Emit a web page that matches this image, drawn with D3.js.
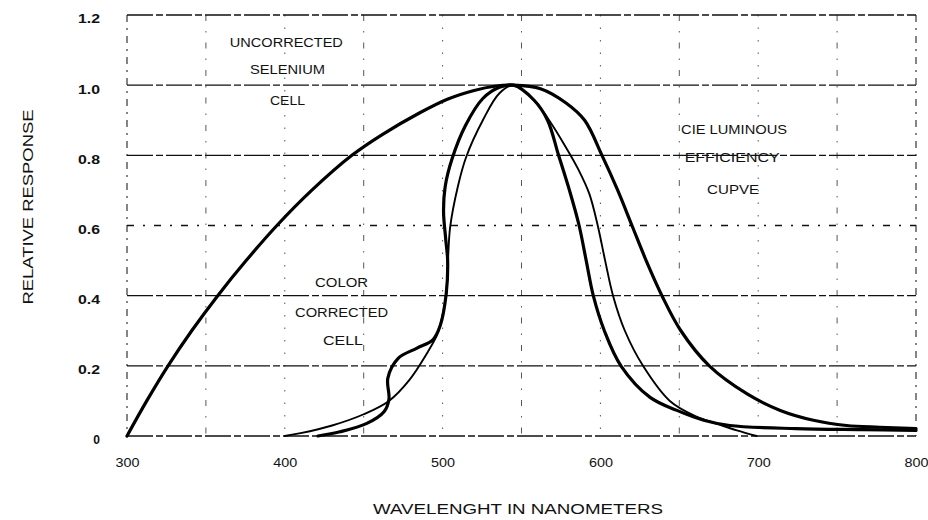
<!DOCTYPE html>
<html>
<head>
<meta charset="utf-8">
<script src="https://cdn.jsdelivr.net/npm/d3@7"></script>
<style>
  body { margin: 0; background: #fff; }
  svg { display: block; }
  text { font-family: "Liberation Sans", Arial, sans-serif; fill: #111; }
</style>
</head>
<body>
<div id="graph"></div>
<script>
// values: [wavelength nm, relative response]
var selenium = [
    [300, 0], [312.5, 0.1], [326, 0.2], [341, 0.3], [357.5, 0.4], [375.5, 0.5], [395, 0.6],
    [417, 0.7], [442.5, 0.8], [462, 0.86], [485, 0.92], [503, 0.96], [520, 0.985],
    [533, 0.997], [545, 1.0], [562, 0.99], [578, 0.95], [590, 0.9], [601, 0.8],
    [611, 0.7], [620, 0.6], [629, 0.5], [639, 0.4], [651, 0.3], [669, 0.2], [693, 0.12],
    [714, 0.073], [735, 0.045], [756, 0.03], [777, 0.025], [800, 0.021]
];
var colorCorrected = [
    [421, 0], [435, 0.012], [452, 0.036], [463, 0.07], [466, 0.105], [465.3, 0.165],
    [472, 0.222], [483.5, 0.25], [494, 0.275], [498.5, 0.315], [502.3, 0.406], [503.2, 0.5],
    [502, 0.56], [500.6, 0.64], [501.6, 0.71], [506, 0.79], [514.5, 0.885],
    [525.5, 0.962], [536, 0.994], [545, 1.0], [558, 0.957], [566.5, 0.9], [573.5, 0.8],
    [580.4, 0.7], [586.5, 0.6], [591, 0.5], [595.5, 0.4], [602.5, 0.3], [613, 0.2],
    [631.5, 0.11], [648.5, 0.073], [665.5, 0.045], [682, 0.03], [724, 0.021],
    [766, 0.018], [800, 0.016]
];
var cie = [
    [400, 0], [410, 0.008], [430, 0.03], [450, 0.062], [466, 0.1], [479, 0.16],
    [490, 0.235], [496, 0.283], [498.5, 0.315], [502.3, 0.406], [503.4, 0.5],
    [504.8, 0.596], [509.6, 0.71], [515, 0.796], [525.5, 0.9], [536, 0.977], [545, 1.0],
    [558, 0.957], [567.5, 0.9], [578, 0.824], [586, 0.76], [593, 0.69], [598.3, 0.6],
    [603, 0.5], [608, 0.4], [615.5, 0.3], [627, 0.2], [644, 0.1], [661, 0.055],
    [673.8, 0.035], [686.5, 0.016], [699, 0]
];

var xTicks = [300, 400, 500, 600, 700, 800];
var xGrid = [300, 350, 400, 450, 500, 550, 600, 650, 700, 750, 800];
var yTicks = [0, 0.2, 0.4, 0.6, 0.8, 1.0, 1.2];
var yTickLabels = ["0", "0.2", "0.4", "0.6", "0.8", "1.0", "1.2"];

var margin = { top: 15, right: 12, bottom: 84, left: 127 },
    width = 928 - margin.left - margin.right,
    height = 520 - margin.top - margin.bottom;

var x = d3.scaleLinear().domain([300, 800]).range([0, width]);
var y = d3.scaleLinear().domain([0, 1.2]).range([height, 0]);

var svg = d3.select("#graph").append("svg")
    .attr("width", 928)
    .attr("height", 520);

var g = svg.append("g")
    .attr("transform", "translate(" + margin.left + "," + margin.top + ")");

// vertical grid, sparse dash-dot (frame sides a bit stronger)
g.selectAll(".vgrid")
    .data(xGrid)
    .enter().append("line")
    .attr("class", "vgrid")
    .attr("x1", d => x(d)).attr("x2", d => x(d))
    .attr("y1", 0).attr("y2", height)
    .attr("stroke", d => (d == 300 || d == 800) ? "#222" : "#444")
    .attr("stroke-width", d => (d == 300 || d == 800) ? 1.1 : 0.9)
    .attr("stroke-dasharray", d => (d == 300 || d == 800) ? "7,6,2,6" : (d % 100 ? "6,10,1.5,10" : "1.5,11"));

// horizontal grid, long dashes (0.6 one is much sparser)
g.selectAll(".hgrid")
    .data(yTicks)
    .enter().append("line")
    .attr("class", "hgrid")
    .attr("x1", 0).attr("x2", width)
    .attr("y1", d => y(d)).attr("y2", d => y(d))
    .attr("stroke", "#111")
    .attr("stroke-width", 1.3)
    .attr("stroke-dasharray", d => Math.abs(d - 0.6) < 1e-6 ? "7,9,2,9" : "26,3,7,3");

// curves
var line = d3.line()
    .x(d => x(d[0]))
    .y(d => y(d[1]))
    .curve(d3.curveCatmullRom.alpha(0.5));

g.append("path").datum(selenium)
    .attr("d", line)
    .attr("fill", "none").attr("stroke", "#000")
    .attr("stroke-width", 3.2).attr("stroke-linecap", "round");

g.append("path").datum(colorCorrected)
    .attr("d", line)
    .attr("fill", "none").attr("stroke", "#000")
    .attr("stroke-width", 3.2).attr("stroke-linecap", "round");

g.append("path").datum(cie)
    .attr("d", line)
    .attr("fill", "none").attr("stroke", "#000")
    .attr("stroke-width", 1.9).attr("stroke-linecap", "round");

// axes, text only
var xAxis = g.append("g")
    .attr("transform", "translate(0," + height + ")")
    .call(d3.axisBottom(x).tickValues(xTicks).tickFormat(d3.format("d")).tickSize(0).tickPadding(22));
xAxis.select(".domain").remove();
xAxis.selectAll("text")
    .style("font-size", "12px")
    .attr("textLength", 24).attr("lengthAdjust", "spacingAndGlyphs");

var yAxis = g.append("g")
    .call(d3.axisLeft(y).tickValues(yTicks).tickFormat((d, i) => yTickLabels[i]).tickSize(0).tickPadding(27));
yAxis.select(".domain").remove();
yAxis.selectAll("text")
    .style("font-size", "12px")
    .style("font-weight", "bold")
    .attr("dy", "0.66em")
    .each(function (d, i) {
        if (yTickLabels[i].length > 1) d3.select(this).attr("textLength", 22).attr("lengthAdjust", "spacingAndGlyphs");
    });

// axis titles
svg.append("text")
    .attr("x", 518).attr("y", 514)
    .attr("text-anchor", "middle")
    .style("font-size", "15px")
    .attr("textLength", 290).attr("lengthAdjust", "spacingAndGlyphs")
    .text("WAVELENGHT IN NANOMETERS");

svg.append("text")
    .attr("transform", "translate(33,207) rotate(-90)")
    .attr("text-anchor", "middle")
    .style("font-size", "14px")
    .attr("textLength", 195).attr("lengthAdjust", "spacingAndGlyphs")
    .text("RELATIVE RESPONSE");

// curve notes, placed in data units
var notes = [
    ["UNCORRECTED", 401, 1.122, 113],
    ["SELENIUM", 401.7, 1.043, 75],
    ["CELL", 401.7, 0.955, 35],
    ["CIE LUMINOUS", 684.7, 0.872, 106],
    ["EFFICIENCY", 683.5, 0.794, 95],
    ["CUPVE", 684.1, 0.701, 52],
    ["COLOR", 436, 0.4375, 53],
    ["CORRECTED", 436, 0.352, 93],
    ["CELL", 436.9, 0.271, 40]
];

g.selectAll(".note")
    .data(notes)
    .enter().append("text")
    .attr("class", "note")
    .attr("x", d => x(d[1]))
    .attr("y", d => y(d[2]))
    .attr("dy", "0.36em")
    .attr("text-anchor", "middle")
    .style("font-size", "12px")
    .attr("textLength", d => d[3]).attr("lengthAdjust", "spacingAndGlyphs")
    .text(d => d[0]);
</script>
</body>
</html>
